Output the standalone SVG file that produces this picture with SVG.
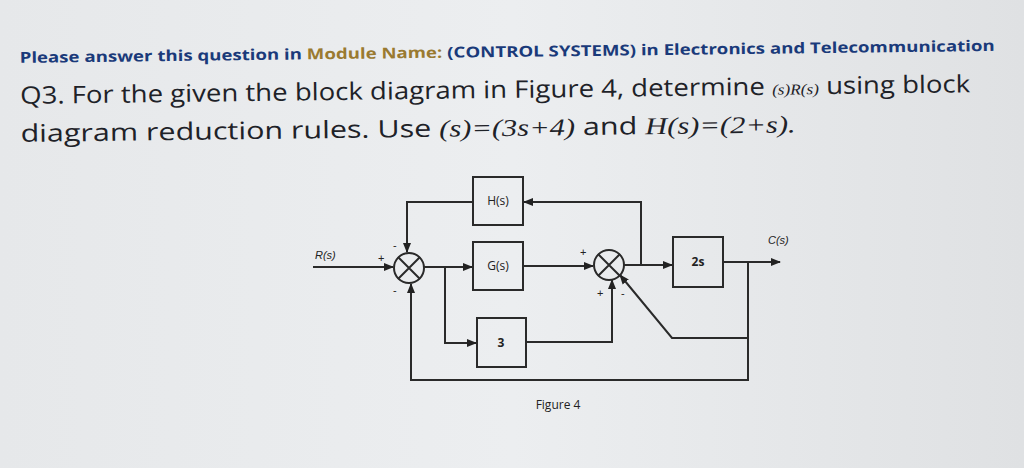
<svg xmlns="http://www.w3.org/2000/svg" width="1024" height="468" viewBox="0 0 1024 468">
<defs>
<linearGradient id="bg" x1="0" y1="0" x2="1" y2="0"><stop offset="0" stop-color="#e6e8ea"/><stop offset="0.5" stop-color="#eceef0"/><stop offset="1" stop-color="#dfe1e3"/></linearGradient>
<marker id="a" viewBox="0 0 10 10" refX="9" refY="5" markerWidth="5" markerHeight="5" orient="auto"><path d="M0,1 L10,5 L0,9 z" fill="#222"/></marker>
</defs>
<style>
.t{font-family:"Open Sans","Liberation Sans",sans-serif;fill:#1e2228}
.b{fill:none;stroke:#2a2a2a;stroke-width:2}
.w{stroke:#2a2a2a;stroke-width:2;fill:none}
.l{font-family:"Open Sans","Liberation Sans",sans-serif;font-size:12px;fill:#222}
.s{font-family:"Liberation Sans",sans-serif;font-size:11px;fill:#222}
</style>
<rect width="1024" height="468" fill="url(#bg)"/>
<g transform="rotate(-0.7 500 80)">
<text class="t" x="20" y="57" font-size="15" font-weight="bold" textLength="975" lengthAdjust="spacingAndGlyphs"><tspan fill="#1a3a7a">Please answer this question in </tspan><tspan fill="#9a7a30">Module Name: </tspan><tspan fill="#1a3a7a">(CONTROL SYSTEMS) in Electronics and Telecommunication</tspan></text>
<text class="t" x="20" y="98" font-size="24" textLength="950" lengthAdjust="spacingAndGlyphs">Q3. For the given the block diagram in Figure 4, determine <tspan font-size="15" font-style="italic" font-family="Liberation Serif,serif">(s)R(s)</tspan> using block</text>
<text class="t" x="20" y="136" font-size="24" textLength="775" lengthAdjust="spacingAndGlyphs">diagram reduction rules. Use <tspan font-family="Liberation Serif,serif" font-style="italic">(s)=(3s+4)</tspan> and <tspan font-family="Liberation Serif,serif" font-style="italic">H(s)=(2+s).</tspan></text>
</g>
<g id="connectors">
<path class="w" d="M313,267 H393" marker-end="url(#a)"/>
<path class="w" d="M424,267 H472" marker-end="url(#a)"/>
<path class="w" d="M523,266 H593" marker-end="url(#a)"/>
<path class="w" d="M624,265 H672" marker-end="url(#a)"/>
<path class="w" d="M641,265 V202 H524" marker-end="url(#a)"/>
<path class="w" d="M473,202 H407 V252" marker-end="url(#a)"/>
<path class="w" d="M445,267 V343 H476" marker-end="url(#a)"/>
<path class="w" d="M526,342 H612 V280" marker-end="url(#a)"/>
<path class="w" d="M723,262 H780" marker-end="url(#a)"/>
<path class="w" d="M748,262 V380 H411 V284" marker-end="url(#a)"/>
<path class="w" d="M748,338 H672 L620,275" marker-end="url(#a)"/>
</g>
<g id="sum1"><circle class="b" cx="409" cy="268" r="15"/><path class="w" d="M398,257 L420,279 M420,257 L398,279"/></g>
<g id="sum2"><circle class="b" cx="609" cy="265" r="15"/><path class="w" d="M598,254 L620,276 M620,254 L598,276"/></g>
<g id="H"><rect class="b" x="473" y="177" width="50" height="48" fill="#eef0f1"/><text class="l" x="498" y="205" text-anchor="middle">H(s)</text></g>
<g id="G"><rect class="b" x="473" y="242" width="50" height="48"/><text class="l" x="498" y="270" text-anchor="middle">G(s)</text></g>
<g id="three"><rect class="b" x="477" y="318" width="49" height="49"/><text class="l" x="501" y="347" text-anchor="middle" font-weight="bold">3</text></g>
<g id="twos"><rect class="b" x="673" y="237" width="50" height="50"/><text class="l" x="698" y="266" text-anchor="middle" font-weight="bold">2s</text></g>
<text class="s" x="315" y="259" font-style="italic">R(s)</text>
<text class="s" x="768" y="244" font-style="italic">C(s)</text>
<text class="s" x="378" y="262">+</text>
<text class="s" x="393" y="249">-</text>
<text class="s" x="393" y="294">-</text>
<text class="s" x="580" y="256">+</text>
<text class="s" x="597" y="297">+</text>
<text class="s" x="621" y="297">-</text>
<text class="l" x="558" y="409" text-anchor="middle" font-size="14">Figure 4</text>
</svg>
